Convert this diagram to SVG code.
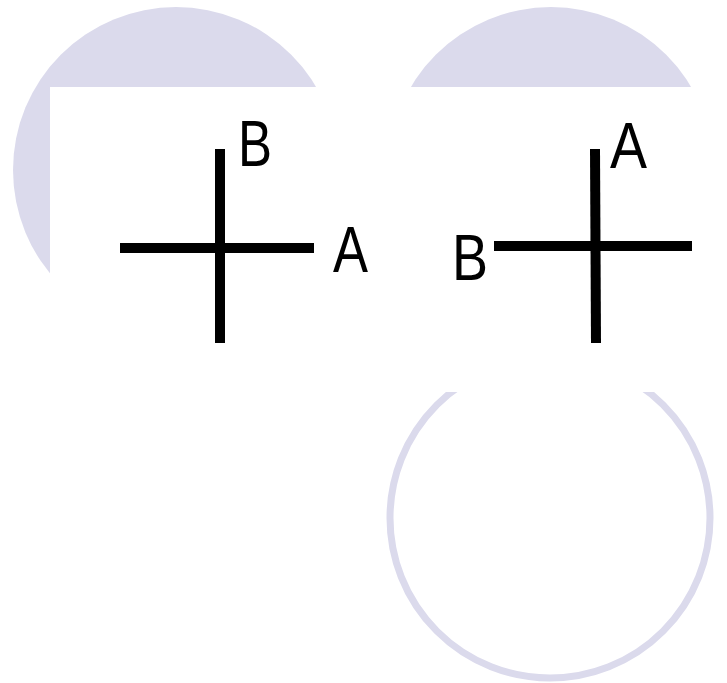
<svg xmlns="http://www.w3.org/2000/svg" width="727" height="683" viewBox="0 0 727 683">
<style>
.disc{fill:#dbdaec;stroke:none}
.ring{fill:none;stroke:#dbdaec;stroke-width:7}
.bar{stroke:#000;stroke-width:10;stroke-linecap:butt}
.lbl{font-family:"Liberation Sans",Arial,sans-serif;font-size:64px;fill:#000}
</style>
<rect x="0" y="0" width="727" height="683" fill="#fff"/>
<g id="background">
<circle class="disc" cx="176" cy="170" r="163"/>
<circle class="disc" cx="551" cy="170" r="163"/>
<circle class="ring" cx="550" cy="518" r="160"/>
<rect x="50" y="87" width="677" height="305" fill="#fff"/>
</g>
<g id="cross-left">
<line class="bar" x1="120" y1="248" x2="314" y2="248"/>
<line class="bar" x1="220" y1="149" x2="220" y2="343"/>
<text class="lbl" x="238" y="166" textLength="34" lengthAdjust="spacingAndGlyphs">B</text>
<text class="lbl" x="333" y="272" textLength="35" lengthAdjust="spacingAndGlyphs">A</text>
</g>
<g id="cross-right">
<line class="bar" x1="494" y1="246" x2="692" y2="246"/>
<line class="bar" x1="595" y1="149" x2="596" y2="343"/>
<text class="lbl" x="610" y="168" textLength="37" lengthAdjust="spacingAndGlyphs">A</text>
<text class="lbl" x="452" y="280" textLength="36" lengthAdjust="spacingAndGlyphs">B</text>
</g>
</svg>
